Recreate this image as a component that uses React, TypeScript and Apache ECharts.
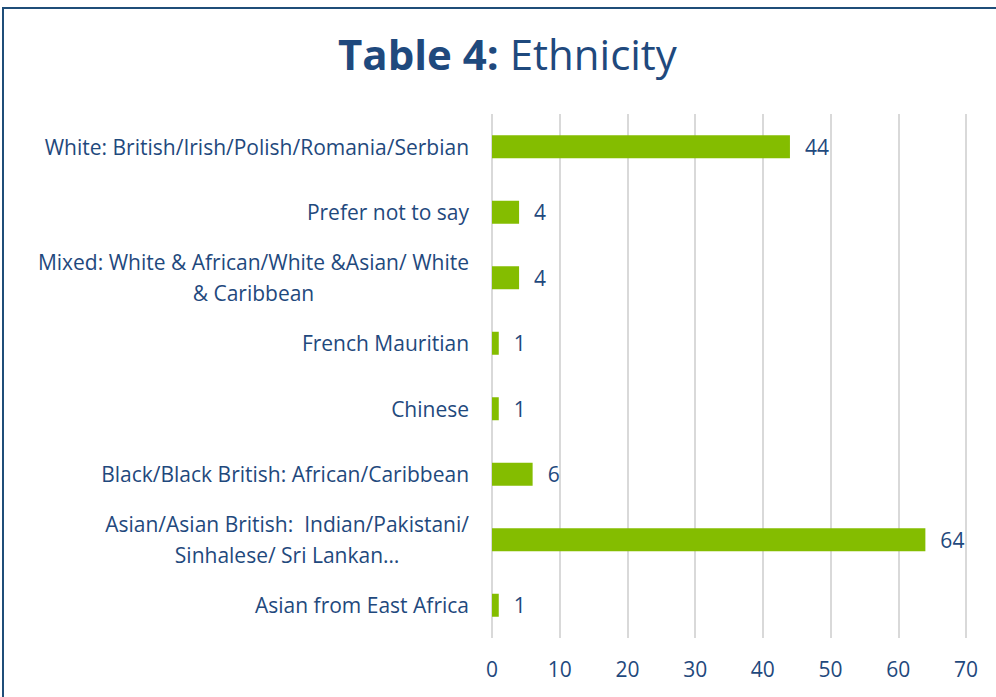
import React, { useEffect, useRef } from "react";
import * as echarts from "echarts";

const categories: string[] = [
  "White: British/Irish/Polish/Romania/Serbian",
  "Prefer not to say",
  "Mixed: White & African/White &Asian/ White\n& Caribbean",
  "French Mauritian",
  "Chinese",
  "Black/Black British: African/Caribbean",
  "Asian/Asian British:  Indian/Pakistani/\nSinhalese/ Sri Lankan…",
  "Asian from East Africa",
];
const values: number[] = [44, 4, 4, 1, 1, 6, 64, 1];
const xTicks: number[] = [0, 10, 20, 30, 40, 50, 60, 70];

const BLUE = "#1F497D";
const GREEN = "#84BD00";
const FONT = "Open Sans";
const FS = 21;

export default function App() {
  const ref = useRef<HTMLDivElement>(null);
  useEffect(() => {
    if (!ref.current) return;
    const chart = echarts.init(ref.current, undefined, { renderer: "svg" });
    chart.setOption({
      animation: false,
      backgroundColor: "#ffffff",
      title: {
        text: "{b|Table 4:}{n| Ethnicity}",
        left: 333,
        top: 27,
        textStyle: {
          rich: {
            b: { fontFamily: FONT, fontSize: 42, fontWeight: "bold", color: BLUE },
            n: { fontFamily: FONT, fontSize: 42, fontWeight: "normal", color: BLUE },
          },
        },
      },
      graphic: [
        {
          type: "rect",
          shape: { x: 3, y: 8, width: 1100, height: 800 },
          style: { fill: "none", stroke: "#1F4E79", lineWidth: 2 },
          silent: true,
        },
      ],
      grid: { left: 492, right: 30, top: 114, bottom: 59, containLabel: false },
      xAxis: {
        type: "value",
        min: xTicks[0],
        max: xTicks[xTicks.length - 1],
        interval: 10,
        axisLine: { show: false },
        axisTick: { show: false },
        splitLine: { show: true, lineStyle: { color: "#D9D9D9", width: 2 } },
        axisLabel: { color: BLUE, fontFamily: FONT, fontSize: FS, margin: 20 },
      },
      yAxis: {
        type: "category",
        data: categories,
        inverse: true,
        axisLine: { show: false },
        axisTick: { show: false },
        axisLabel: {
          color: BLUE,
          fontFamily: FONT,
          fontSize: FS,
          margin: 23,
          align: "right",
          lineHeight: 31,
          formatter: (v: string) =>
            v
              .split("\n")
              .map((s) => "{c|" + s + "}")
              .join("\n"),
          rich: {
            c: { align: "center", color: BLUE, fontFamily: FONT, fontSize: FS, lineHeight: 31 },
          },
        },
      },
      series: [
        {
          type: "bar",
          data: values,
          barWidth: 23,
          itemStyle: { color: GREEN },
          label: {
            show: true,
            position: "right",
            distance: 15,
            color: BLUE,
            fontFamily: FONT,
            fontSize: FS,
          },
        },
      ],
    });
    return () => chart.dispose();
  }, []);
  return (
    <div
      ref={ref}
      style={{ position: "fixed", left: 0, top: 0, width: 996, height: 697 }}
    />
  );
}
